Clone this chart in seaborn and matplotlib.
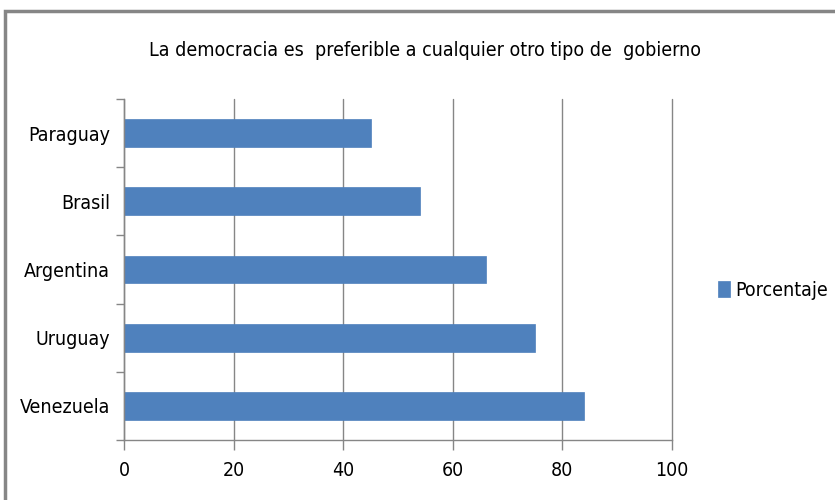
import matplotlib
matplotlib.use("Agg")
import matplotlib.pyplot as plt
import seaborn as sns
import pandas as pd
from matplotlib.patches import Rectangle
from matplotlib.ticker import FixedLocator

paises = ["Paraguay", "Brasil", "Argentina", "Uruguay", "Venezuela"]
porcentaje = [45, 54, 66, 75, 84]
serie = "Porcentaje"
titulo = "La democracia es  preferible a cualquier otro tipo de  gobierno"
xticks = [0, 20, 40, 60, 80, 100]

sns.set_theme(style="white")
plt.rcParams["font.family"] = ["DejaVu Sans"]
plt.rcParams["font.stretch"] = "condensed"
plt.rcParams["text.color"] = "black"
plt.rcParams["xtick.labelcolor"] = "black"
plt.rcParams["ytick.labelcolor"] = "black"

df = pd.DataFrame({"pais": paises, "valor": porcentaje, "serie": [serie] * len(paises)})

fig = plt.figure(figsize=(8.35, 5), dpi=100)
ax = fig.add_axes([124 / 835, 1 - 440 / 500, 548 / 835, 341 / 500])

sns.barplot(data=df, x="valor", y="pais", hue="serie", order=paises,
            palette=["#4F81BD"], width=0.41, orient="h", ax=ax,
            saturation=1, edgecolor="#4F81BD", linewidth=0.5, legend=True)

ax.set_xlim(0, 100)
ax.set_ylim(4.5, -0.5)
ax.set_xticks(xticks)
ax.set_xticklabels([str(v) for v in xticks], fontsize=14, fontstretch="condensed")
for lab in ax.get_yticklabels():
    lab.set_fontstretch("condensed")
ax.tick_params(axis="y", which="major", length=0, labelsize=14, pad=10)
ax.yaxis.set_minor_locator(FixedLocator([-0.5, 0.5, 1.5, 2.5, 3.5, 4.5]))
ax.tick_params(axis="y", which="minor", length=6, color="#868686", width=1, left=True)
ax.tick_params(axis="x", which="major", length=7, color="#868686", width=1, bottom=True, pad=8)
ax.set_xlabel("")
ax.set_ylabel("")
ax.grid(axis="x", color="#868686", linewidth=1)
for gl in ax.get_xgridlines():
    gl.set_clip_on(False)
ax.set_axisbelow(True)
for s in ["top", "right"]:
    ax.spines[s].set_visible(False)
for s in ["left", "bottom"]:
    ax.spines[s].set_color("#868686")
    ax.spines[s].set_linewidth(1)

leg = ax.get_legend()
if leg is not None:
    leg.remove()
handles, labels = ax.get_legend_handles_labels()
fig.legend(handles[:1], labels[:1], loc="center left",
           bbox_to_anchor=(718 / 835, 1 - 290 / 500), frameon=False,
           prop={"size": 14, "stretch": "condensed"},
           handlelength=0.6, handleheight=0.9, handletextpad=0.3,
           borderpad=0, borderaxespad=0)

fig.text(425 / 835, 1 - 50 / 500, titulo, ha="center", va="center",
         fontsize=14, fontstretch="condensed")

fig.patches.append(Rectangle((5 / 835, -0.1), 1.2, 1 - 11 / 500 + 0.1,
                             transform=fig.transFigure, fill=False,
                             edgecolor="#868686", linewidth=2.5, figure=fig))

fig.savefig("out.png", dpi=100)
